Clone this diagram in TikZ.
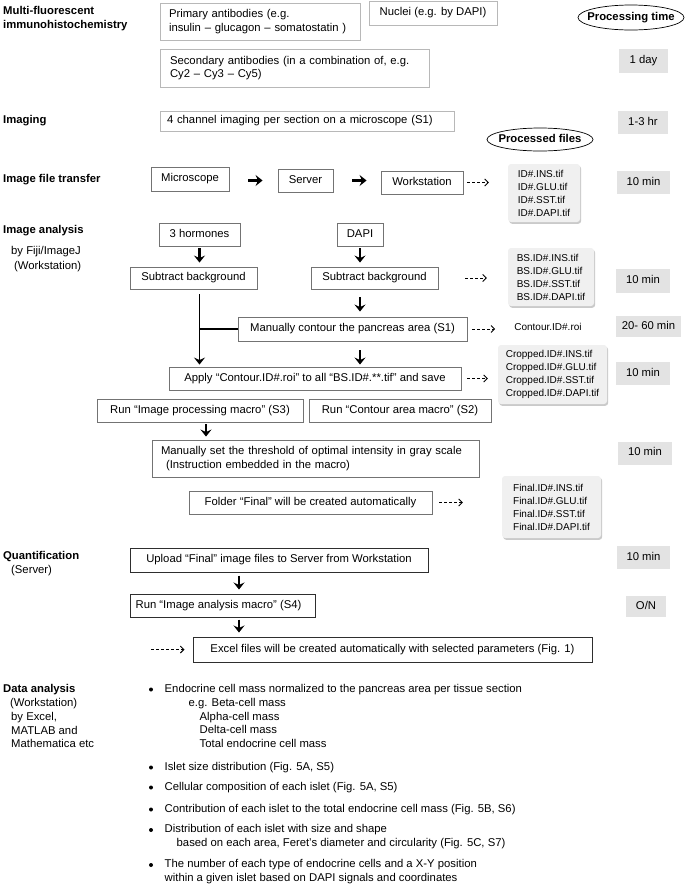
\documentclass[tikz,border=0pt]{standalone}
\usepackage{fontspec}
\setmainfont{Liberation Sans}
\usetikzlibrary{arrows.meta,shadows,calc}
\begin{document}
\begin{tikzpicture}[x=1pt,y=-1pt,
  every node/.style={inner sep=0pt, font=\fontsize{11.3}{13.5}\selectfont},
  one/.style={text height=8.2pt, text depth=2.4pt},
  lab/.style={anchor=west, one, font=\fontsize{11.3}{13.5}\selectfont\bfseries},
  sublab/.style={anchor=west, one},
  bxA/.style={draw=black!28, line width=0.9pt},
  bxB/.style={draw=black!55, line width=0.9pt},
  bxC/.style={draw=black!82, line width=1pt},
  tm/.style={fill=black!11, one},
  fnote/.style={fill=black!6, rounded corners=3pt, drop shadow={shadow xshift=1.2pt, shadow yshift=-1.8pt, opacity=0.35, fill=black!60}, font=\fontsize{10}{13}\selectfont, align=left},
  solar/.style={line width=2.6pt, -{Stealth[length=7pt,width=11pt,inset=2.5pt]}},
  conn/.style={line width=1.5pt},
  dsh/.style={line width=0.9pt, dash pattern=on 3pt off 2pt, -{Straight Barb[length=3.5pt,width=7pt]}},
  dotm/.style={circle, fill=black, minimum size=4pt},
  bul/.style={anchor=west, one}
]
\useasboundingbox (0,0) rectangle (685,887);

% ---------- section labels ----------
\node[lab] (l1a) at (3,11.5) {Multi-fluorescent};
\node[lab] (l1b) at (3,25.5) {immunohistochemistry};
\node[lab] (l2) at (3,121) {Imaging};
\node[lab] (l3) at (3,180) {Image file transfer};
\node[lab] (l4) at (3,231) {Image analysis};
\node[sublab] (l4b) at (11,252) {by Fiji/ImageJ};
\node[sublab] (l4c) at (14,267) {(Workstation)};
\node[lab] (l5) at (3,557) {Quantification};
\node[sublab] (l5b) at (11,571) {(Server)};
\node[lab] (l6) at (3,689.5) {Data analysis};
\node[sublab] (l6b) at (10,703.5) {(Workstation)};
\node[sublab] (l6c) at (11,718) {by Excel,};
\node[sublab] (l6d) at (11,731.5) {MATLAB and};
\node[sublab] (l6e) at (11,745) {Mathematica etc};

% ---------- top boxes ----------
\node[bxA, text width=188pt, inner xsep=6pt, minimum height=37pt, align=left] (prim) at (260,21.5) {\hspace*{3pt}Primary antibodies (e.g.\\\hspace*{3pt}insulin – glucagon – somatostatin )};
\node[bxA, one, minimum width=128pt, minimum height=24pt] (nuc) at (433,13) {Nuclei (e.g. by DAPI)};
\node[bxA, text width=249pt, inner xsep=10pt, minimum height=38pt, align=left] (sec) at (294.5,68) {Secondary antibodies (in a combination of, e.g.\\Cy2 – Cy3 – Cy5)};
\node[bxA, one, text width=280pt, inner xsep=7pt, minimum height=20pt, align=left] (chan) at (307,121) {4 channel imaging per section on a microscope (S1)};

% ---------- processing time column ----------
\node[font=\fontsize{11.3}{13.5}\selectfont\bfseries, one] (ptime) at (631,17.5) {Processing time};
\draw[line width=0.7pt] (ptime.center) ellipse [x radius=53pt, y radius=12.5pt];
\node[tm, minimum width=49pt, minimum height=24pt] (t1) at (643.5,61) {1 day};
\node[tm, minimum width=50pt, minimum height=23pt] (t2) at (643,122.5) {1-3 hr};
\node[font=\fontsize{11.3}{13.5}\selectfont\bfseries, one] (pfiles) at (540,139.5) {Processed files};
\draw[line width=0.7pt] (pfiles.center) ellipse [x radius=53pt, y radius=11.5pt];
\node[tm, minimum width=53pt, minimum height=23pt] (t3) at (643.5,182.5) {10 min};
\node[tm, minimum width=54pt, minimum height=24pt] (t4) at (643,281) {10 min};
\node[tm, minimum width=65pt, minimum height=21pt] (t5) at (648.5,326.5) {20- 60 min};
\node[tm, minimum width=54pt, minimum height=23pt] (t6) at (643,373.5) {10 min};
\node[tm, minimum width=54pt, minimum height=23pt] (t7) at (645,453) {10 min};
\node[tm, minimum width=53pt, minimum height=23pt] (t8) at (643.5,557.5) {10 min};
\node[tm, minimum width=40pt, minimum height=21pt] (t9) at (646,606.5) {O/N};

% ---------- file transfer ----------
\node[bxB, one, minimum width=78pt, minimum height=24pt] (mic) at (190,179) {Microscope};
\node[bxB, one, minimum width=55pt, minimum height=23pt] (srv) at (305.5,180.5) {Server};
\node[bxB, one, minimum width=82pt, minimum height=23pt] (wks) at (422,182.5) {Workstation};
\node[fnote, minimum width=72pt, minimum height=58pt] (n1) at (544,193) {ID\#.INS.tif\\ID\#.GLU.tif\\ID\#.SST.tif\\ID\#.DAPI.tif};

\draw[solar, shorten <=19pt, shorten >=15pt] (mic.east |- srv.west) -- (srv.west);
\draw[solar, shorten <=19pt, shorten >=14pt] (srv.east) -- (srv.east -| wks.west);
\draw[dsh, shorten <=4pt, shorten >=19pt] (wks.east) -- (wks.east -| n1.west);

% ---------- image analysis ----------
\node[bxB, one, minimum width=81pt, minimum height=23pt] (horm) at (199.5,234.5) {3 hormones};
\node[bxB, one, minimum width=46pt, minimum height=23pt] (dapi) at (360,234.5) {DAPI};
\node[bxB, one, minimum width=127pt, minimum height=22pt] (subL) at (193.5,278) {Subtract background};
\node[bxB, one, minimum width=127pt, minimum height=22pt] (subR) at (374.5,278) {Subtract background};
\node[fnote, minimum width=86pt, minimum height=58pt] (n2) at (551,277) {BS.ID\#.INS.tif\\BS.ID\#.GLU.tif\\BS.ID\#.SST.tif\\BS.ID\#.DAPI.tif};
\node[bxB, one, minimum width=229pt, minimum height=24pt] (cont) at (352.5,329) {Manually contour the pancreas area (S1)};
\node[one, font=\fontsize{10}{13}\selectfont] (ctxt) at (548,328) {Contour.ID\#.roi};
\node[bxB, one, minimum width=292pt, minimum height=23pt] (apply) at (315,378.5) {Apply “Contour.ID\#.roi” to all “BS.ID\#.**.tif” and save};
\node[fnote, minimum width=109pt, minimum height=59pt] (n3) at (552.5,374.5) {Cropped.ID\#.INS.tif\\Cropped.ID\#.GLU.tif\\Cropped.ID\#.SST.tif\\Cropped.ID\#.DAPI.tif};
\node[bxB, one, minimum width=206pt, minimum height=23pt] (runIP) at (200,410.5) {Run “Image processing macro” (S3)};
\node[bxB, one, minimum width=182pt, minimum height=23pt] (runCA) at (400,410.5) {Run “Contour area macro” (S2)};
\node[bxB, text width=309pt, inner xsep=9pt, minimum height=37pt, align=left] (thr) at (315.5,458.5) {Manually set the threshold of optimal intensity in gray scale\\\hspace*{5pt}(Instruction embedded in the macro)};
\node[bxB, one, minimum width=243pt, minimum height=23pt] (fold) at (310.5,502.5) {Folder “Final” will be created automatically};
\node[fnote, minimum width=99pt, minimum height=62pt] (n4) at (551.5,507) {Final.ID\#.INS.tif\\Final.ID\#.GLU.tif\\Final.ID\#.SST.tif\\Final.ID\#.DAPI.tif};

\draw[solar, shorten <=2pt, shorten >=4pt] (horm.south) -- (horm.south |- subL.north);
\draw[solar, shorten <=2pt, shorten >=4pt] (dapi.south) -- (dapi.south |- subR.north);
\draw[solar, shorten <=8pt, shorten >=5pt] (dapi.south |- subR.south) -- (dapi.south |- cont.north);
\draw[solar, shorten <=9pt, shorten >=2pt] (dapi.south |- cont.south) -- (dapi.south |- apply.north);
\draw[conn, -{Stealth[length=7pt,width=11pt,inset=2.5pt]}, shorten <=5pt, shorten >=2pt] (horm.south |- subL.south) -- (horm.south |- apply.north);
\draw[conn] (cont.west) -- (cont.west -| horm.south);
\coordinate (ipx) at ([xshift=6pt]runIP.south);
\draw[solar, shorten <=2pt, shorten >=3pt] (ipx) -- (ipx |- thr.north);
\draw[dsh, shorten <=27pt, shorten >=21pt] (subR.east) -- (subR.east -| n2.west);
\draw[dsh, shorten <=5pt, shorten >=19pt] (cont.east) -- (cont.east -| ctxt.west);
\draw[dsh, shorten <=6pt, shorten >=10pt] (apply.east) -- (apply.east -| n3.west);
\draw[dsh, shorten <=7pt, shorten >=39pt] (fold.east) -- (fold.east -| n4.west);

% ---------- quantification ----------
\node[bxC, one, minimum width=298pt, minimum height=24pt] (upl) at (279,560) {Upload “Final” image files to Server from Workstation};
\node[bxC, one, minimum width=185pt, minimum height=23pt] (runIA) at (222.5,605.5) {Run “Image analysis macro” (S4)\hspace*{8pt}};
\node[bxC, one, minimum width=399pt, minimum height=25pt] (excel) at (392.5,649.5) {Excel files will be created automatically with selected parameters (Fig. 1)};
\coordinate (qx) at (239,0);
\draw[solar, shorten <=3pt, shorten >=4pt] (qx |- upl.south) -- (qx |- runIA.north);
\draw[solar, shorten <=2pt, shorten >=4pt] (qx |- runIA.south) -- (qx |- excel.north);
\coordinate (exs) at (151,649.5);
\draw[dsh, shorten >=8pt] (exs) -- (excel.west);

% ---------- data analysis ----------
\node[dotm] (d1) at (151,689.5) {};
\node[bul] (b1) at (164.5,689.5) {Endocrine cell mass normalized to the pancreas area per tissue section};
\node[bul] (b1a) at (188.5,703.5) {e.g. Beta-cell mass};
\node[bul] (b1b) at (199.5,717.5) {Alpha-cell mass};
\node[bul] (b1c) at (199.5,731) {Delta-cell mass};
\node[bul] (b1d) at (199.5,745) {Total endocrine cell mass};
\node[dotm] (d2) at (151,767.5) {};
\node[bul] (b2) at (164.5,767.5) {Islet size distribution (Fig. 5A, S5)};
\node[dotm] (d3) at (151,787.5) {};
\node[bul] (b3) at (164.5,787.5) {Cellular composition of each islet (Fig. 5A, S5)};
\node[dotm] (d4) at (151,809.5) {};
\node[bul] (b4) at (164.5,809.5) {Contribution of each islet to the total endocrine cell mass (Fig. 5B, S6)};
\node[dotm] (d5) at (151,830) {};
\node[bul] (b5) at (164.5,830) {Distribution of each islet with size and shape};
\node[bul] (b5a) at (176.5,843.5) {based on each area, Feret’s diameter and circularity (Fig. 5C, S7)};
\node[dotm] (d6) at (151,865) {};
\node[bul] (b6) at (164.5,865) {The number of each type of endocrine cells and a X-Y position};
\node[bul] (b6a) at (164.5,879) {within a given islet based on DAPI signals and coordinates};
\end{tikzpicture}
\end{document}
